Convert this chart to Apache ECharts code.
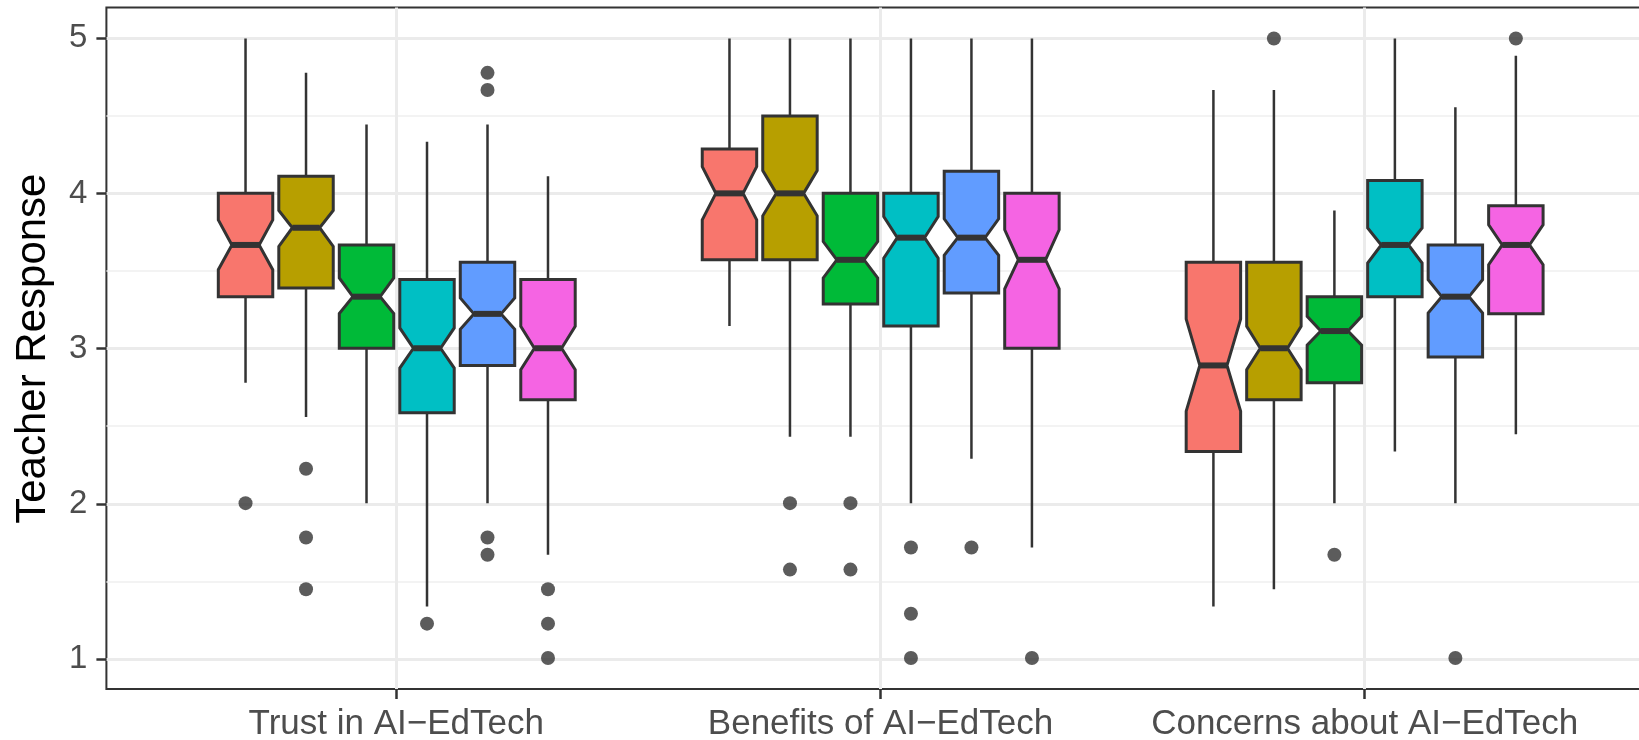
<!DOCTYPE html>
<html>
<head>
<meta charset="utf-8">
<script src="https://cdn.jsdelivr.net/npm/echarts@6/dist/echarts.min.js"></script>
<style>
html,body{margin:0;padding:0;background:#fff;}
#chart{width:1639px;height:740px;}
</style>
</head>
<body>
<div id="chart"></div>
<script>
// ---- data ----
const categories = ['Trust in AI\u2212EdTech', 'Benefits of AI\u2212EdTech', 'Concerns about AI\u2212EdTech'];
const yTicks = [1, 2, 3, 4, 5];
// stats indexed [category][group]
const whiskerLow = [
  [2.778, 2.556, 2.0, 1.333, 2.0, 1.667],
  [3.143, 2.429, 2.429, 2.0, 2.286, 1.714],
  [1.333, 1.444, 2.0, 2.333, 2.0, 2.444]
];
const q1 = [
  [3.333, 3.389, 3.0, 2.583, 2.889, 2.667],
  [3.571, 3.571, 3.286, 3.143, 3.357, 3.0],
  [2.333, 2.667, 2.778, 3.333, 2.944, 3.222]
];
const notchLow = [
  [3.507, 3.657, 3.224, 2.872, 3.122, 2.862],
  [3.829, 3.855, 3.454, 3.582, 3.600, 3.383],
  [2.594, 2.862, 3.020, 3.550, 3.228, 3.539]
];
const median = [
  [3.667, 3.778, 3.333, 3.0, 3.222, 3.0],
  [4.0, 4.0, 3.571, 3.714, 3.714, 3.571],
  [2.889, 3.0, 3.111, 3.667, 3.333, 3.667]
];
const notchHigh = [
  [3.829, 3.889, 3.454, 3.131, 3.325, 3.142],
  [4.173, 4.147, 3.689, 3.851, 3.836, 3.765],
  [3.188, 3.142, 3.206, 3.776, 3.443, 3.797]
];
const q3 = [
  [4.0, 4.111, 3.667, 3.444, 3.556, 3.444],
  [4.286, 4.5, 4.0, 4.0, 4.143, 4.0],
  [3.556, 3.556, 3.333, 4.083, 3.667, 3.920]
];
const whiskerHigh = [
  [5.0, 4.778, 4.444, 4.333, 4.444, 4.111],
  [5.0, 5.0, 5.0, 5.0, 5.0, 5.0],
  [4.667, 4.667, 3.889, 5.0, 4.556, 4.889]
];
const outliers = [
  [[2.0], [2.222, 1.778, 1.444], [], [1.222], [4.778, 4.667, 1.778, 1.667], [1.444, 1.222, 1.0]],
  [[], [2.0, 1.571], [2.0, 1.571], [1.714, 1.286, 1.0], [1.714], [1.0]],
  [[], [5.0], [1.667], [], [1.0], [5.0]]
];

// ---- style ----
const groupColors = ['#F8766D', '#B79F00', '#00BA38', '#00BFC4', '#619CFF', '#F564E3'];
const DODGE = 0.125, BOXW = 0.1125, NOTCHW = 0.5;
const FONT = 'Liberation Sans, Arial, Helvetica, sans-serif';

const nGroups = groupColors.length;
const boxData = [];
const outlierData = [];
categories.forEach((c, ci) => {
  for (let g = 0; g < nGroups; g++) {
    const x = (ci + 1) + (g - (nGroups - 1) / 2) * DODGE;
    boxData.push({ value: [x, whiskerLow[ci][g], q1[ci][g], notchLow[ci][g], median[ci][g], notchHigh[ci][g], q3[ci][g], whiskerHigh[ci][g], g] });
    outliers[ci][g].forEach(v => outlierData.push([x, v]));
  }
});

function renderBox(params, api) {
  const x = api.value(0);
  const wl = api.value(1), lq = api.value(2), nl = api.value(3), md = api.value(4), nh = api.value(5), uq = api.value(6), wh = api.value(7);
  const g = api.value(8);
  const hw = BOXW / 2, nw = hw * NOTCHW;
  const P = (a, b) => api.coord([a, b]);
  const pts = [
    P(x - hw, lq), P(x - hw, nl), P(x - nw, md), P(x - hw, nh), P(x - hw, uq),
    P(x + hw, uq), P(x + hw, nh), P(x + nw, md), P(x + hw, nl), P(x + hw, lq)
  ];
  const a = P(x, wl), b = P(x, wh);
  const m1 = P(x - nw, md), m2 = P(x + nw, md);
  return {
    type: 'group',
    children: [
      { type: 'line', shape: { x1: a[0], y1: a[1], x2: b[0], y2: b[1] }, style: { stroke: '#333333', lineWidth: 2.5 } },
      { type: 'polygon', shape: { points: pts }, style: { fill: groupColors[g], stroke: '#333333', lineWidth: 3, lineJoin: 'miter' } },
      { type: 'line', shape: { x1: m1[0], y1: m1[1], x2: m2[0], y2: m2[1] }, style: { stroke: '#333333', lineWidth: 6 } }
    ]
  };
}

const chart = echarts.init(document.getElementById('chart'), null, { renderer: 'canvas' });
chart.setOption({
  backgroundColor: '#ffffff',
  animation: false,
  grid: [
    { left: 106.4, width: 1548.6, top: 7.5, bottom: 51, outerBoundsMode: 'none', containLabel: false, show: true, borderColor: '#333333', borderWidth: 2, backgroundColor: 'transparent' },
    { left: 106.4, width: 1548.6, top: 38.3, bottom: 81, outerBoundsMode: 'none', containLabel: false },
    { left: 396.3, right: 274.3, top: 7.5, bottom: 51, outerBoundsMode: 'none', containLabel: false }
  ],
  xAxis: [
    { gridIndex: 0, type: 'value', min: 0.4, max: 3.6, show: false },
    { gridIndex: 1, type: 'value', min: 0, max: 1, show: false },
    {
      gridIndex: 2, type: 'value', min: 1, max: 3, interval: 1,
      axisLine: { show: false },
      axisTick: { show: true, length: 10, lineStyle: { color: '#333333', width: 2.5 } },
      axisLabel: { formatter: v => categories[Math.round(v) - 1] || '', fontSize: 35, color: '#4D4D4D', fontFamily: FONT, margin: 18 },
      splitLine: { show: true, lineStyle: { color: '#EBEBEB', width: 3 } }
    }
  ],
  yAxis: [
    { gridIndex: 0, type: 'value', min: 0.8, max: 5.2, show: false },
    {
      gridIndex: 1, type: 'value', min: yTicks[0], max: yTicks[yTicks.length - 1], interval: 1,
      axisLine: { show: false },
      axisTick: { show: true, length: 10, lineStyle: { color: '#333333', width: 2.5 } },
      axisLabel: { fontSize: 33, color: '#4D4D4D', fontFamily: FONT, margin: 19 },
      splitLine: { show: true, lineStyle: { color: '#EBEBEB', width: 3 } },
      minorTick: { show: false, splitNumber: 2 },
      minorSplitLine: { show: true, lineStyle: { color: '#EFEFEF', width: 1.5 } },
      name: 'Teacher Response', nameLocation: 'middle', nameGap: 52,
      nameTextStyle: { fontSize: 42, color: '#000000', fontFamily: FONT }
    },
    { gridIndex: 2, type: 'value', min: 0, max: 1, show: false }
  ],
  series: [
    {
      type: 'custom', xAxisIndex: 0, yAxisIndex: 0, z: 3,
      renderItem: renderBox,
      encode: { x: 0, y: [1, 7] },
      data: boxData
    },
    {
      type: 'scatter', xAxisIndex: 0, yAxisIndex: 0, z: 4,
      symbol: 'circle', symbolSize: 14,
      itemStyle: { color: '#333333' },
      data: outlierData
    }
  ]
});
</script>
</body>
</html>
